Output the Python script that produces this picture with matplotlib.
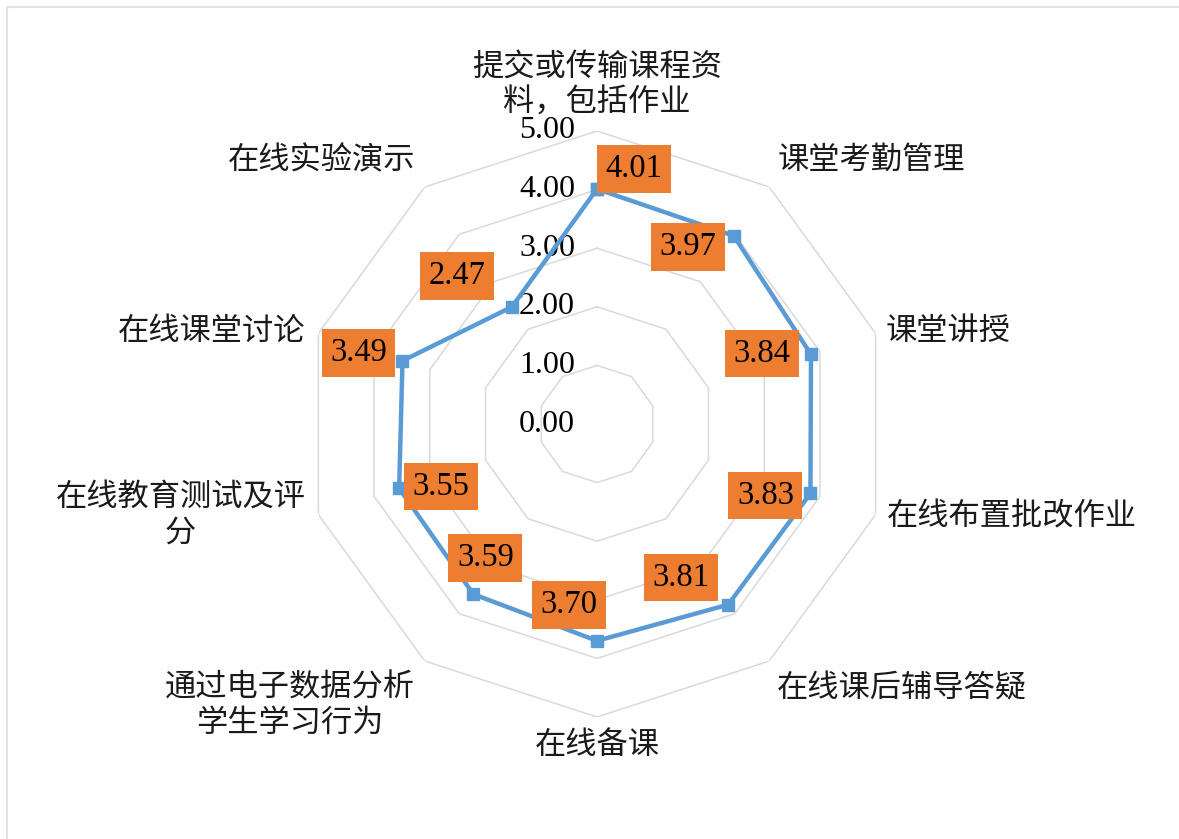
import numpy as np
import matplotlib.pyplot as plt
from matplotlib.patches import Rectangle

plt.rcParams['font.family'] = ['Noto Sans CJK SC', 'DejaVu Sans']

# data
categories = ['提交或传输课程资\n料，包括作业', '课堂考勤管理', '课堂讲授', '在线布置批改作业',
              '在线课后辅导答疑', '在线备课', '通过电子数据分析\n学生学习行为',
              '在线教育测试及评\n分', '在线课堂讨论', '在线实验演示']
values = [4.01, 3.97, 3.84, 3.83, 3.81, 3.70, 3.59, 3.55, 3.49, 2.47]
ring_levels = [1, 2, 3, 4, 5]
tick_labels = ['0.00', '1.00', '2.00', '3.00', '4.00', '5.00']

# label offsets in pixels (from data point / outer vertex)
value_offsets = [(37, 20), (-46, -11), (-49, 1), (-45, -2), (-47, 27),
                 (-28, 36), (12, 36), (42, 2), (-44, 8), (-55, 31)]
cat_offsets = [(0, 46), (102, 27), (72, 3), (136, -2), (133, -27),
               (0, -28), (-135, -44), (-138, 0), (-107, 3), (-103, 27)]

n = len(categories)
angles = np.arange(n) * 2 * np.pi / n
angles_closed = np.append(angles, angles[0])

fig = plt.figure(figsize=(11.79, 8.39), dpi=100)
fig.patches.append(Rectangle((7 / 1179, -0.05), 1.1, 1.05 - 7 / 839, transform=fig.transFigure,
                             fill=False, edgecolor='#e3e3e3', lw=1.5))

cx, cy, R = 597 / 1179, 1 - 424 / 839, 293
ax = fig.add_axes([cx - R / 1179, cy - R / 839, 2 * R / 1179, 2 * R / 839], projection='polar')
ax.set_theta_zero_location('N')
ax.set_theta_direction(-1)
ax.set_ylim(0, 5)
ax.grid(False)
ax.set_xticks([])
ax.set_yticks([])
ax.spines['polar'].set_visible(False)
ax.patch.set_alpha(0)

# polygon grid rings
for r in ring_levels:
    ax.plot(angles_closed, [r] * (n + 1), color='#d9d9d9', lw=1.1, zorder=1)

# tick labels along the top axis
for i, t in enumerate(tick_labels):
    ax.annotate(t, xy=(0, i), xytext=(-22, 0), textcoords='offset pixels',
                ha='right', va='center', fontsize=23, family='Liberation Serif',
                annotation_clip=False)

vals_closed = values + values[:1]
ax.plot(angles_closed, vals_closed, color='#5b9bd5', lw=3.2, marker='s', ms=9,
        zorder=3, clip_on=False)

for a, v, off in zip(angles, values, value_offsets):
    ax.annotate(f'{v:.2f}', xy=(a, v), xytext=off, textcoords='offset pixels',
                ha='center', va='center', fontsize=23.5, family='Liberation Serif',
                bbox=dict(boxstyle='square,pad=0.26', facecolor='#ed7d31', edgecolor='none'),
                zorder=5, annotation_clip=False)

for a, c, off in zip(angles, categories, cat_offsets):
    ax.annotate(c, xy=(a, 5), xytext=off, textcoords='offset pixels',
                ha='center', va='center', fontsize=22.5, color='#1a1a1a',
                linespacing=1.15, annotation_clip=False)

fig.savefig('out.png', dpi=100)
